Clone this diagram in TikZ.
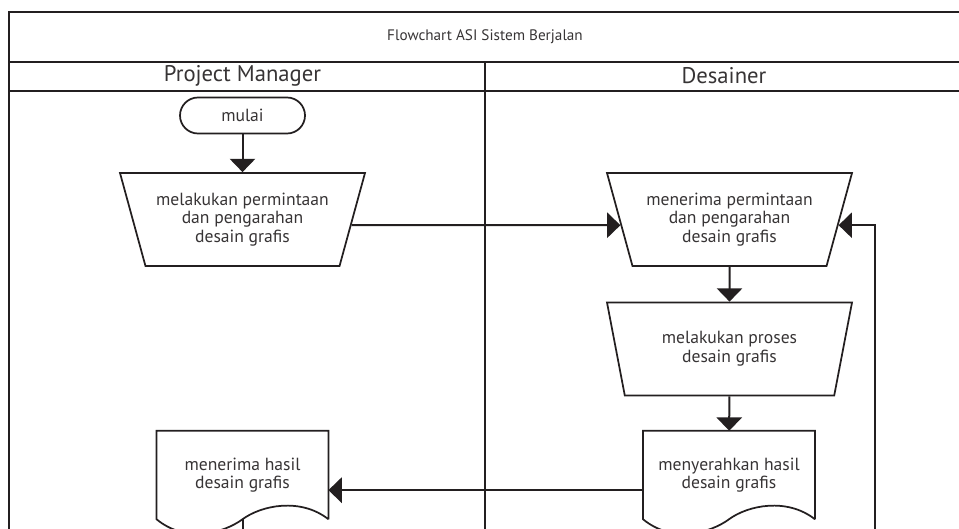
\documentclass[tikz,border=0pt]{standalone}
\usepackage{fontspec}
\setmainfont{PT Sans}
\usepackage{tikz}
\usetikzlibrary{shapes.geometric, arrows.meta, calc}
\usepackage{xcolor}
\definecolor{garis}{RGB}{35,31,32}
\definecolor{teks}{RGB}{55,52,53}

\begin{document}
\begin{tikzpicture}[x=0.75pt, y=-0.75pt,
    bingkai/.style={draw=garis, line width=1.2pt},
    mulaibox/.style={draw=garis, line width=1.3pt, rounded corners=13.5pt,
        minimum width=93.75pt, minimum height=27pt, text=teks, font=\fontsize{13.2}{14}\selectfont},
    manual/.style={trapezium, shape border rotate=180, trapezium angle=67.8,
        trapezium stretches body, draw=garis, line width=1.3pt,
        minimum width=183.75pt, minimum height=69.75pt, align=center,
        text=teks, font=\fontsize{13.2}{14}\selectfont},
    dokumen/.style={minimum width=128.5pt, minimum height=66pt, align=center,
        text=teks, font=\fontsize{13.2}{14}\selectfont},
    panah/.style={draw=garis, line width=1.5pt, -{Triangle[width=19pt, length=10pt]}},
    garisan/.style={draw=garis, line width=1.5pt}]
    \useasboundingbox (0,0) rectangle (959,528);
    \clip (0,0) rectangle (959,528);
    % Bingkai
    \draw[bingkai] (962,12) -- (9,12) -- (9,545);
    \draw[bingkai] (9,62) -- (962,62);
    \draw[bingkai] (9,91) -- (962,91);
    \draw[bingkai] (485,62) -- (485,545);
    \node[text=teks, font=\fontsize{11.4}{13}\selectfont] (judul) at (485,37) {Flowchart ASI Sistem Berjalan};
    \node[text=teks, font=\fontsize{17}{19}\selectfont] (lanepm) at (242.5,76) {Project Manager};
    \node[text=teks, font=\fontsize{17}{19}\selectfont] (lanede) at (724,76) {Desainer};
    % Simbol
    \node[mulaibox] (mulai) at (242.5,115.5) {mulai};
    \node[manual] (pm1) at (242.5,219.5) {melakukan permintaan\\dan pengarahan\\desain grafis};
    \node[manual] (de1) at (729.5,219.5) {menerima permintaan\\dan pengarahan\\desain grafis};
    \node[manual] (de2) at (729.5,349) {melakukan proses\\desain grafis};
    \node[dokumen] (de3) at (729,475) {menyerahkan hasil\\desain grafis};
    \node[dokumen] (pm2) at (242.5,475) {menerima hasil\\desain grafis};
    % Bentuk dokumen
    \foreach \d in {de3,pm2} {
        \draw[draw=garis, line width=1.3pt] (\d.south east) -- (\d.north east) -- (\d.north west) -- (\d.south west)
            .. controls +(29,24) and +(-19,14) .. (\d.south)
            .. controls +(19,-14) and +(-28,-22) .. (\d.south east);
    }
    \coordinate (balik) at (875,545);
    \coordinate (akhir) at (242.5,545);
    % Panah
    \draw[panah] (mulai) -- (pm1);
    \draw[panah] (pm1.-3) -- (de1.183);
    \draw[panah] (de1) -- (de2);
    \draw[panah] (de2) -- (de3);
    \draw[panah] (de3.190) -- (pm2.-10);
    \draw[panah] (balik) |- (de1.-3);
    \draw[garisan] (pm2.south) -- (akhir);
\end{tikzpicture}
\end{document}
